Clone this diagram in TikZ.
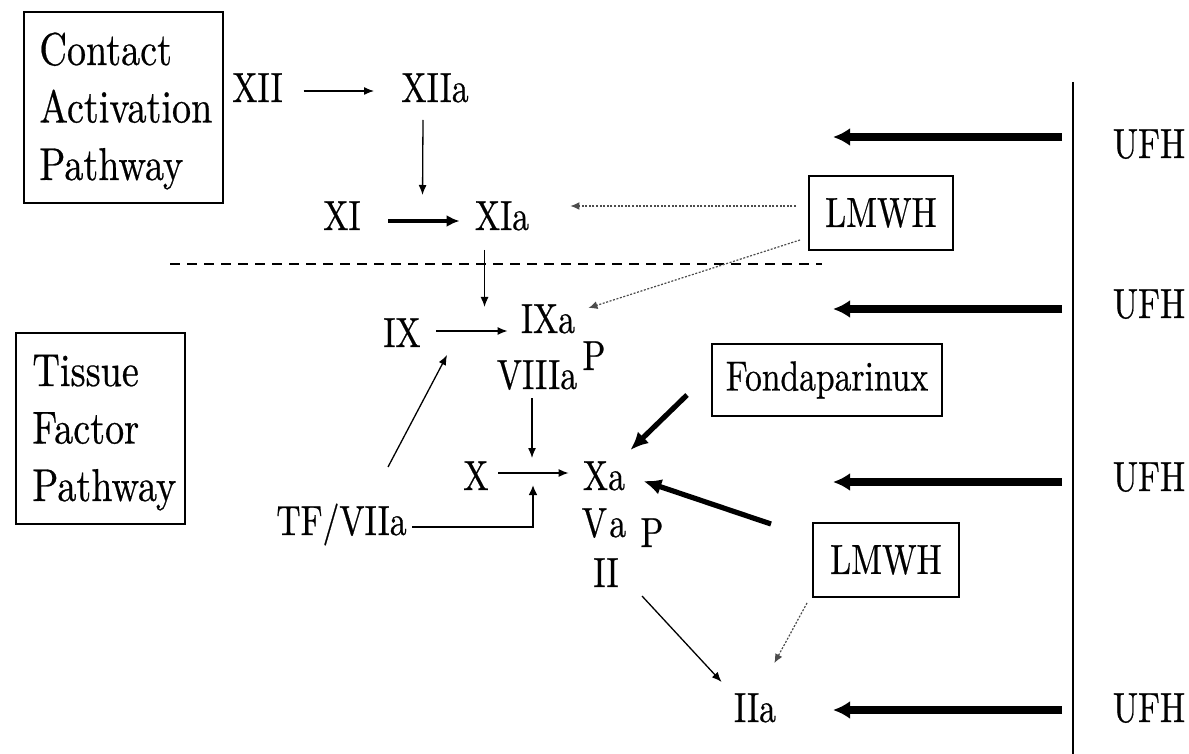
\documentclass[tikz,border=0pt]{standalone}
\usepackage{fontspec}
\usepackage{graphicx}
\setmainfont{lmroman10-regular.otf}[FakeBold=0.6]
\usetikzlibrary{arrows.meta,calc}
\newcommand{\nr}[1]{\scalebox{0.8}[1]{#1}}
\newcommand{\nrb}[1]{\scalebox{0.83}[1]{#1}}
\begin{document}
\begin{tikzpicture}[x=0.5pt,y=-0.5pt,
  lab/.style={inner sep=0pt,anchor=base,font=\fontsize{21}{25}\selectfont},
  pathtext/.style={inner sep=0pt,anchor=base west,font=\fontsize{23}{28.75}\selectfont},
  framebox/.style={draw,line width=1pt,inner sep=0pt},
  drugbox/.style={draw,line width=1pt,inner sep=0pt,font=\fontsize{21}{25}\selectfont},
  thinarr/.style={line width=0.65pt,-{Latex[length=5pt,width=4pt]}},
  medarr/.style={line width=1.75pt,-{Latex[length=6.5pt,width=6pt]}},
  heavyarr/.style={line width=2.6pt,-{Latex[length=9pt,width=8pt]}},
  ufharr/.style={line width=3.8pt,-{Latex[length=8.5pt,width=9pt]}},
  dotarr/.style={line width=0.6pt,gray!60!black,dash pattern=on 1pt off 0.8pt,-{Latex[length=4.5pt,width=4pt]}},
]
\useasboundingbox (0,0) rectangle (1189,754);

% pathway boxes
\node[framebox,anchor=north west,minimum width=99.5pt,minimum height=95.5pt] (cbox) at (23,11) {};
\node[pathtext] (ctext) at (39,65) {\nrb{\begin{tabular}[t]{@{}l@{}}Contact\\Activation\\Pathway\end{tabular}}};
\node[framebox,anchor=north west,minimum width=84.5pt,minimum height=95.5pt] (tbox) at (15,332) {};
\node[pathtext] (ttext) at (32,386) {\nrb{\begin{tabular}[t]{@{}l@{}}Tissue\\Factor\\Pathway\end{tabular}}};

% factors
\node[lab] (XII) at (257.5,102) {\nr{XII}};
\node[lab] (XIIa) at (435,102) {\nr{XIIa}};
\node[lab] (XI) at (342,230) {\nr{XI}};
\node[lab] (XIa) at (502,230) {\nr{XIa}};
\node[lab] (IX) at (402,347) {\nr{IX}};
\node[lab] (IXa) at (548,333) {\nr{IXa}};
\node[lab] (P1) at (594,370) {\nr{P}};
\node[lab] (VIIIa) at (537,389) {\nr{VIIIa}};
\node[lab] (X) at (476,490) {\nr{X}};
\node[lab] (Xa) at (604,490) {\nr{Xa}};
\node[lab] (Va) at (604,537) {\nr{V\kern1.5pt a}};
\node[lab] (P2) at (652,547) {\nr{P}};
\node[lab] (II) at (606,587) {\nr{II}};
\node[lab,anchor=base east] (TF) at (407,535) {\nr{TF/VIIa}};
\node[lab] (IIa) at (755,722) {\nr{IIa}};

% drugs
\node[drugbox,minimum width=72pt,minimum height=37pt] (LM1) at (881,213) {\nr{LMWH}};
\node[drugbox,minimum width=115pt,minimum height=36pt] (FON) at (827,380) {\nr{Fondaparinux}};
\node[drugbox,minimum width=73pt,minimum height=37pt] (LM2) at (886,560) {\nr{LMWH}};

\node[lab] (U1) at (1149,158) {\nr{UFH}};
\node[lab] (U2) at (1149,318) {\nr{UFH}};
\node[lab] (U3) at (1149,491) {\nr{UFH}};
\node[lab] (U4) at (1149,722) {\nr{UFH}};

% lines
\coordinate (vtop) at (1073,82);
\coordinate (vbot) at (1073,754);
\draw[line width=0.6pt] (vtop) -- (vbot);
\coordinate (dl) at (170,264);
\coordinate (dr) at (822,264);
\draw[line width=0.6pt,dash pattern=on 5pt off 3.5pt] (dl) -- (dr);

% cascade arrows
\draw[thinarr] ($(XII.base east)+(20.4,-11)$) -- ($(XIIa.base west)+(-27,-11)$);
\draw[thinarr] ($(XIIa.base)+(-12,18)$) -- ($(XIa.base west)+(-52,-35)$);
\draw[medarr] ($(XI.base east)+(27,-9)$) -- ($(XIa.base west)+(-15,-9)$);
\draw[thinarr] ($(XIa.base west)+(10,20)$) -- ($(IXa.base west)+(-36,-26)$);
\draw[thinarr] ($(IX.base east)+(15,-16)$) -- ($(IXa.base west)+(-13,-2)$);
\draw[thinarr] ($(TF.base east)+(-19,-68)$) -- ($(IX.base east)+(26,8)$);
\draw[thinarr] ($(VIIIa.base)+(-5,9)$) -- ($(X.base east)+(43,-32)$);
\draw[thinarr] ($(X.base east)+(9,-17)$) -- ($(Xa.base west)+(-14,-17)$);
\draw[line width=1.25pt,-{Latex[length=5pt,width=4.5pt]}] ($(TF.base east)+(5,-8)$) -| ($(X.base east)+(44,-5)$);
\draw[thinarr] ($(II.base east)+(23,9)$) -- ($(IIa.base west)+(-12,-40)$);

% drug arrows
\draw[dotarr] ($(LM1.west)+(-12,-7)$) -- ($(XIa.base east)+(41,-24)$);
\draw[dotarr] ($(LM1.south west)+(-8,-11)$) -- ($(IXa.base east)+(13,-25)$);
\draw[heavyarr] ($(FON.west)+(-24,15)$) -- ($(Xa.base east)+(5,-40)$);
\draw[heavyarr] ($(LM2.north west)+(-41,2)$) -- ($(Xa.base east)+(18,-9)$);
\draw[dotarr] ($(LM2.south west)+(-5,5)$) -- ($(IIa.base east)+(-2,-59)$);

\draw[ufharr] ($(U1.base)+(-87,-21)$) -- ($(U1.base)+(-316,-21)$);
\draw[ufharr] ($(U2.base)+(-87,-9)$) -- ($(U2.base)+(-316,-9)$);
\draw[ufharr] ($(U3.base)+(-87,-9)$) -- ($(U3.base)+(-316,-9)$);
\draw[ufharr] ($(U4.base)+(-87,-12)$) -- ($(U4.base)+(-316,-12)$);
\end{tikzpicture}
\end{document}
